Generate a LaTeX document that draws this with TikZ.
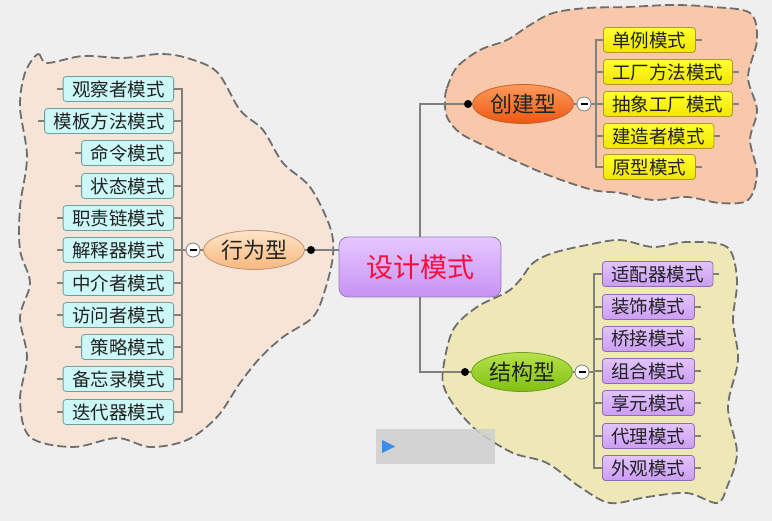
\documentclass[tikz,border=0pt]{standalone}
\usepackage{fontspec}
\newfontfamily\cjk{Noto Sans CJK SC}
\usetikzlibrary{shapes.geometric,calc}
\definecolor{bg}{HTML}{EFEFEF}
\definecolor{cloudL}{HTML}{F6E5D7}
\definecolor{cloudT}{HTML}{F9C8AA}
\definecolor{cloudB}{HTML}{EEE7B6}
\definecolor{cloudline}{HTML}{6E6E6E}
\definecolor{conn}{HTML}{808080}
\definecolor{txt}{HTML}{222222}
\definecolor{cyanf}{HTML}{CDF8F8}
\definecolor{cyand}{HTML}{6E9E9E}
\definecolor{yelT}{HTML}{FFFF30}
\definecolor{yelB}{HTML}{F2E600}
\definecolor{yeld}{HTML}{A89A30}
\definecolor{purT}{HTML}{E2C4FC}
\definecolor{purB}{HTML}{CC9CF4}
\definecolor{purd}{HTML}{8E6EAE}
\definecolor{cenT}{HTML}{E6C8FF}
\definecolor{cenB}{HTML}{C692F2}
\definecolor{cend}{HTML}{9A7AB8}
\definecolor{cenred}{HTML}{FF0A3A}
\definecolor{xwT}{HTML}{FFE4C8}
\definecolor{xwB}{HTML}{F8B87E}
\definecolor{xwd}{HTML}{C09070}
\definecolor{cjT}{HTML}{FF9A5A}
\definecolor{cjB}{HTML}{EC5810}
\definecolor{cjd}{HTML}{C06030}
\definecolor{jgT}{HTML}{B6E24A}
\definecolor{jgB}{HTML}{80C012}
\definecolor{jgd}{HTML}{6E9E22}
\definecolor{boxgray}{HTML}{CFCFCF}
\definecolor{tri}{HTML}{3A8EE8}
\tikzset{
  cloud/.style={draw=cloudline, line width=1.8pt, dash pattern=on 9pt off 4pt},
  leaf/.style={draw, rounded corners=3pt, minimum height=25pt, inner xsep=9pt, inner ysep=0pt,
    font=\cjk\fontsize{18.5}{19}\selectfont, text=txt, line width=0.8pt},
  cyanleaf/.style={leaf, fill=cyanf, draw=cyand, anchor=east},
  yelleaf/.style={leaf, top color=yelT, bottom color=yelB, draw=yeld, anchor=west},
  purleaf/.style={leaf, top color=purT, bottom color=purB, draw=purd, anchor=west},
  topic/.style={ellipse, minimum width=101pt, minimum height=39pt, inner sep=0pt, line width=0.8pt,
    font=\cjk\fontsize{22}{23}\selectfont, text=txt},
  conline/.style={draw=conn, line width=1.1pt},
  tick/.style={draw=conn, line width=1.1pt},
  dotnode/.style={circle, fill=black, inner sep=0pt, minimum size=8pt},
  minusnode/.style={circle, draw=conn, fill=white, inner sep=0pt, minimum size=14pt, line width=0.8pt,
    path picture={\draw[line width=1.3pt, black] ([xshift=-3.5pt]path picture bounding box.center) -- ([xshift=3.5pt]path picture bounding box.center);}},
}
\begin{document}
\begin{tikzpicture}[x=1pt,y=-1pt]
\useasboundingbox (0,0) rectangle (772,521);
\fill[bg] (0,0) rectangle (772,521);

% clouds
\draw[cloud, fill=cloudL] plot[smooth cycle, tension=0.55] coordinates {
 (25,73) (38,54) (47,63) (83,56) (123,58) (160,54) (187,58) (217,72) (240,110) (263,130)
 (283,163) (310,187) (330,227) (333,255) (325,290) (313,317) (283,337) (260,358) (240,383)
 (217,417) (187,440) (150,447) (117,438) (73,447) (30,437) (20,400) (27,357) (20,317)
 (30,283) (20,250) (20,207) (27,157) (20,107)};
\draw[cloud, fill=cloudT] plot[smooth cycle, tension=0.55] coordinates {
 (445,100) (447,88) (457,67) (480,50) (507,40) (530,25) (553,13) (587,8) (627,7) (673,5)
 (713,7) (750,13) (757,40) (748,77) (757,110) (750,140) (757,173) (748,200) (720,203)
 (687,197) (653,200) (620,193) (593,190) (553,177) (520,163) (487,147) (460,133) (447,117)};
\draw[cloud, fill=cloudB] plot[smooth cycle, tension=0.55] coordinates {
 (443,370) (453,330) (477,307) (507,292) (520,280) (533,263) (553,253) (587,245) (620,240)
 (653,247) (687,242) (727,247) (737,280) (733,320) (738,360) (728,407) (737,453) (727,487)
 (717,503) (687,493) (647,497) (610,503) (580,487) (547,463) (513,453) (480,433) (460,413) (445,390)};

% central node
\node[draw=cend, line width=0.8pt, rounded corners=9pt, top color=cenT, bottom color=cenB,
  minimum width=162pt, minimum height=60pt, font=\cjk\fontsize{27}{28}\selectfont, text=cenred]
  (c) at (420,267) {设计模式};

% main topics
\node[topic, top color=xwT, bottom color=xwB, draw=xwd] (xw) at (254,250) {行为型};
\node[topic, top color=cjT, bottom color=cjB, draw=cjd] (cj) at (523,104) {创建型};
\node[topic, top color=jgT, bottom color=jgB, draw=jgd] (jg) at (522,372) {结构型};

\node[dotnode] (dxw) at (311,250) {};
\node[dotnode] (dcj) at (468,104) {};
\node[dotnode] (djg) at (465,372) {};

\node[minusnode] (mxw) at (193,250) {};
\node[minusnode] (mcj) at (584,104) {};
\node[minusnode] (mjg) at (582,372) {};

\coordinate (bxw) at (182,250);
\coordinate (bcj) at (596,104);
\coordinate (bjg) at (594,372);

% connectors center -> topics
\draw[conline] (c.west |- dxw) -- (dxw);
\draw[conline] (c.north) |- (dcj);
\draw[conline] (c.south) |- (djg);
\draw[conline] (dxw) -- (xw.east);
\draw[conline] (dcj) -- (cj.west);
\draw[conline] (djg) -- (jg.west);
\draw[conline] (xw.west) -- (mxw.east);
\draw[conline] (cj.east) -- (mcj.west);
\draw[conline] (jg.east) -- (mjg.west);
\draw[conline] (mxw.west) -- (bxw);
\draw[conline] (mcj.east) -- (bcj);
\draw[conline] (mjg.east) -- (bjg);

% left leaves
\foreach \n/\t/\y in {l1/观察者模式/89, l2/模板方法模式/121, l3/命令模式/153, l4/状态模式/186,
  l5/职责链模式/218, l6/解释器模式/250, l7/中介者模式/283, l8/访问者模式/315, l9/策略模式/347,
  l10/备忘录模式/379, l11/迭代器模式/412}{
  \node[cyanleaf] (\n) at (174,\y) {\t};
  \draw[conline] (bxw) |- (\n.east);
  \draw[tick] (\n.west) -- ++(-6,0);
}

% top-right leaves
\foreach \n/\t/\y in {r1/单例模式/40, r2/工厂方法模式/72, r3/抽象工厂模式/104, r4/建造者模式/136, r5/原型模式/167}{
  \node[yelleaf] (\n) at (603,\y) {\t};
  \draw[conline] (bcj) |- (\n.west);
  \draw[tick] (\n.east) -- ++(6,0);
}

% bottom-right leaves
\foreach \n/\t/\y in {s1/适配器模式/274, s2/装饰模式/307, s3/桥接模式/339, s4/组合模式/371,
  s5/享元模式/403, s6/代理模式/436, s7/外观模式/468}{
  \node[purleaf] (\n) at (602,\y) {\t};
  \draw[conline] (bjg) |- (\n.west);
  \draw[tick] (\n.east) -- ++(6,0);
}

% gray overlay box with triangle
\fill[boxgray, opacity=0.85] (376,429) rectangle (495,464);
\fill[tri] (382,440) -- (395,446.5) -- (382,453) -- cycle;
\end{tikzpicture}
\end{document}
